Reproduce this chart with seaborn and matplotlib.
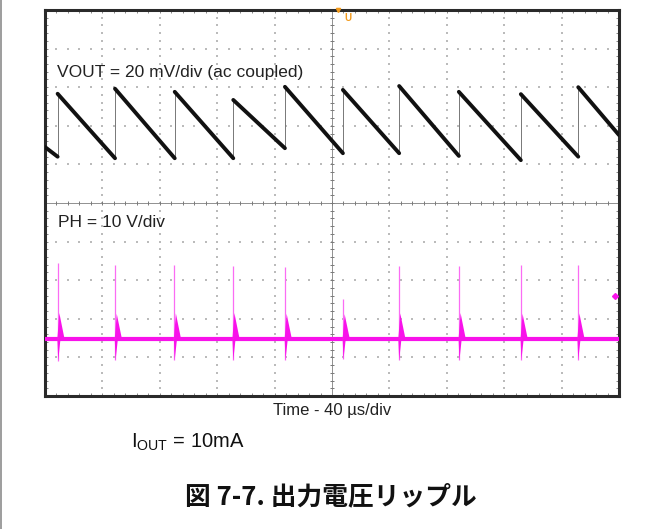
import numpy as np
import pandas as pd
import matplotlib.pyplot as plt
from matplotlib.lines import Line2D
import seaborn as sns

# screen units: x in divisions (0..10, 40 us/div), y in divisions (-5..5)
# VOUT trace (20 mV/div, ac coupled)
vout_jump_t = [0.22, 1.22, 2.26, 3.28, 4.18, 5.19, 6.17, 7.21, 8.29, 9.29]
vout_peak = [2.83, 2.96, 2.88, 2.67, 3.01, 2.93, 3.03, 2.88, 2.82, 3.00]
vout_valley = [1.20, 1.16, 1.16, 1.16, 1.42, 1.29, 1.29, 1.22, 1.11, 1.20]
vout_start = 1.45
vout_end = 1.76

# PH trace (10 V/div)
ph_spike_t = [0.22, 1.22, 2.25, 3.27, 4.18, 5.19, 6.16, 7.21, 8.29, 9.28]
ph_spike_top = [-1.56, -1.61, -1.61, -1.62, -1.65, -2.49, -1.62, -1.62, -1.61, -1.61]
ph_ring_top = [-2.85, -2.87, -2.86, -2.85, -2.87, -2.88, -2.86, -2.85, -2.87, -2.86]
ph_dip = [-4.09, -4.08, -4.07, -4.08, -4.07, -4.05, -4.08, -4.08, -4.06, -4.07]
ph_base = -3.52
ph_marker = (9.93, -2.41)
trig_t = 5.19

sns.set_theme(style="white")
plt.rcParams['font.family'] = ['Liberation Sans', 'Noto Sans CJK JP', 'DejaVu Sans']
plt.rcParams['mathtext.fontset'] = 'custom'
plt.rcParams['mathtext.rm'] = 'Liberation Sans'

W, H = 663, 529
fig = plt.figure(figsize=(W / 100, H / 100), dpi=100)
ax = fig.add_axes([45 / W, 1 - 396 / H, 574 / W, 386 / H])
ax.set_xlim(0, 10)
ax.set_ylim(-5, 5)

# graticule
minor = np.round(np.arange(0, 10.001, 0.2), 2)
minor_y = np.round(np.arange(-5, 5.001, 0.2), 2)
dots_x, dots_y = [], []
for gx in [1, 2, 3, 4, 6, 7, 8, 9]:
    dots_x += [gx] * len(minor_y)
    dots_y += list(minor_y)
for gy in [-4, -3, -2, -1, 1, 2, 3, 4]:
    dots_x += list(minor)
    dots_y += [gy] * len(minor)
ax.scatter(dots_x, dots_y, marker='s', s=1.3, color='#bbbbbb', linewidths=0, zorder=1)
ax.axhline(0, color='#909090', lw=0.7, zorder=1)
ax.axvline(5, color='#909090', lw=0.7, zorder=1)
ax.plot(minor, np.zeros_like(minor), ls='none', marker='|', ms=3.5, mew=0.7, color='#7a7a7a', zorder=1)
ax.plot(np.full_like(minor_y, 5), minor_y, ls='none', marker='_', ms=3.5, mew=0.7, color='#7a7a7a', zorder=1)

ax.set_xticks(np.arange(0, 11, 1))
ax.set_yticks(np.arange(-5, 6, 1))
ax.set_xticks(minor, minor=True)
ax.set_yticks(minor_y, minor=True)
ax.tick_params(which='both', direction='in', length=2.2, width=0.7, color='#888888',
               top=True, right=True, bottom=True, left=True,
               labelbottom=False, labelleft=False)
for s in ax.spines.values():
    s.set_linewidth(2.2)
    s.set_color('#2a2a2a')

# VOUT ramps
ts, vs, seg = [], [], []
starts = [(0, vout_start)] + list(zip(vout_jump_t, vout_peak))
ends = list(zip(vout_jump_t, vout_valley)) + [(10, vout_end)]
for i, (a, b) in enumerate(zip(starts, ends)):
    ts += [a[0], b[0]]
    vs += [a[1], b[1]]
    seg += [i, i]
ramps = pd.DataFrame({'t': ts, 'v': vs, 'seg': seg})
sns.lineplot(data=ramps, x='t', y='v', units='seg', estimator=None, sort=False,
             color='#111111', lw=2.8, ax=ax, zorder=4)
ax.vlines(vout_jump_t, vout_valley, vout_peak, color='#777777', lw=0.7, zorder=3)

# PH trace
mag = '#f812ea'
sns.lineplot(x=[0, 10], y=[ph_base, ph_base], color=mag, lw=3.0, ax=ax, zorder=4)
ax.vlines(ph_spike_t, ph_dip, ph_spike_top, color='#fb6cf4', lw=0.9, zorder=4)
for t, r, d in zip(ph_spike_t, ph_ring_top, ph_dip):
    ax.fill([t - 0.005, t + 0.03, t + 0.12], [ph_base, r, ph_base], color=mag, lw=0, zorder=4)
    ax.fill([t - 0.005, t + 0.01, t + 0.05], [ph_base, d, ph_base], color=mag, lw=0, zorder=4)
ax.plot(*ph_marker, marker='D', ms=3, color=mag, clip_on=False, zorder=5)

# trigger marker
ax.text(trig_t + 0.02, 4.78, 'U', color='#f29a1c', fontsize=7, fontweight='bold',
        ha='left', va='center', zorder=5)
ax.plot(trig_t - 0.08, 5, marker='v', ms=3, color='#f29a1c', clip_on=False, zorder=6)

ax.set_xlabel('')
ax.set_ylabel('')
ax.text(0.21, 3.37, 'VOUT = 20 mV/div (ac coupled)', fontsize=12.5, color='#222222',
        ha='left', va='center', zorder=6)
ax.text(0.22, -0.5, 'PH = 10 V/div', fontsize=12.5, color='#222222',
        ha='left', va='center', zorder=6)

fig.text(332 / W, 1 - 410 / H, 'Time - 40 \u00b5s/div', fontsize=12, color='#222222',
         ha='center', va='center')
fig.text(131 / W, 1 - 442 / H, r'I$_{\mathrm{OUT}}$ = 10mA', fontsize=14.5, color='#111111',
         ha='left', va='center')
fig.text(331 / W, 1 - 497 / H, '図 7-7. 出力電圧リップル', fontsize=18.5, fontweight='bold',
         family=['Noto Sans CJK JP', 'DejaVu Sans'], color='#111111', ha='center', va='center')

fig.add_artist(Line2D([1 / W, 1 / W], [0, 1], color='#8c8c8c', lw=1.2))

fig.savefig('out.png', dpi=100)
